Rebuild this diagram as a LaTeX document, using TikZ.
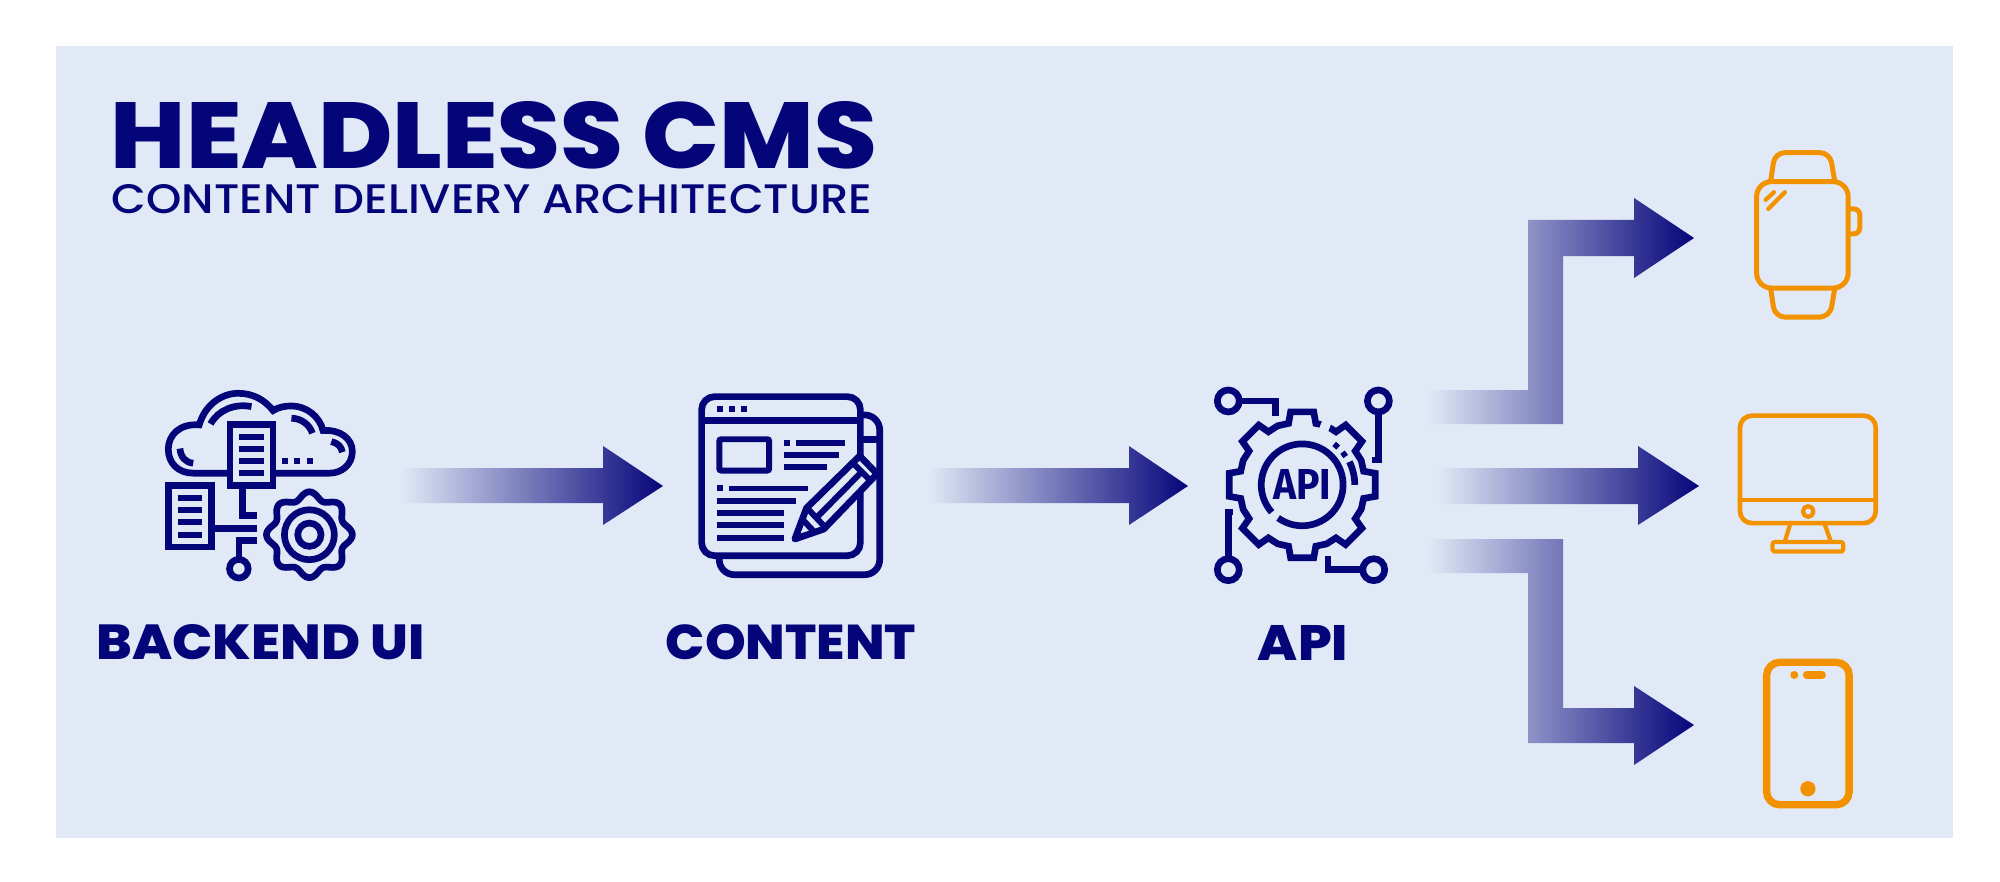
\documentclass[tikz,border=0pt]{standalone}
\usepackage{fontspec}
\usepackage{graphicx}
\setmainfont{Poppins}
\newfontfamily\heavyfont{Poppins ExtraBold}
\newfontfamily\medfont{Poppins Medium}
\newfontfamily\iconfont{Fira Sans}[UprightFont=* Bold]
\definecolor{panelc}{HTML}{E1E9F6}
\definecolor{navyc}{HTML}{05057A}
\definecolor{orangec}{HTML}{F39200}
\tikzset{
  txt/.style={inner sep=0pt,outer sep=0pt,text=navyc,anchor=center},
  grad/.style={left color=panelc,right color=navyc,draw=none},
  ic/.style={draw=navyc,line width=1.9pt,line cap=butt,line join=miter},
  icthin/.style={draw=navyc,line width=1.7pt,line cap=butt},
  org/.style={draw=orangec,line cap=round,line join=round},
  zoomed/.style={x=0.003333cm,y=-0.003333cm}
}
\newcommand{\navybar}[3]{\draw[icthin,line width=1.7pt] (#1,#3)--(#2,#3);}
\begin{document}
\begin{tikzpicture}[x=0.01cm,y=-0.01cm]
\useasboundingbox (0,0) rectangle (2000,882);
\fill[white] (0,0) rectangle (2000,882);
\fill[panelc] (56,46) rectangle (1953,838);

% titles
\node[txt] (title) at (494,135.5) {\resizebox{7.66cm}{0.67cm}{\heavyfont HEADLESS CMS}};
\node[txt] (subtitle) at (492,199.5) {\resizebox{7.6cm}{0.29cm}{\medfont CONTENT DELIVERY ARCHITECTURE}};
\node[txt] (l1) at (260.5,642.5) {\resizebox{3.28cm}{0.35cm}{\heavyfont BACKEND UI}};
\node[txt] (l2) at (791,642.5) {\resizebox{2.5cm}{0.35cm}{\heavyfont CONTENT}};
\node[txt] (l3) at (1303,642.5) {\resizebox{0.9cm}{0.35cm}{\heavyfont API}};

% gradient arrows
\shade[grad] (401,468)--(603,468)--(603,446)--(663,486)--(603,525)--(603,503)--(401,503)--cycle;
\shade[grad] (928,468)--(1129,468)--(1129,446)--(1188,486)--(1129,525)--(1129,503)--(928,503)--cycle;
\shade[grad] (1428,390)--(1528,390)--(1528,220)--(1634,220)--(1634,198)--(1694,238)--(1634,278)--(1634,256)--(1563,256)--(1563,424)--(1428,424)--cycle;
\shade[grad] (1438,468)--(1638,468)--(1638,446)--(1699,486)--(1638,525)--(1638,504)--(1438,504)--cycle;
\shade[grad] (1428,539)--(1563,539)--(1563,708)--(1634,708)--(1634,686)--(1694,725)--(1634,765)--(1634,743)--(1528,743)--(1528,573)--(1428,573)--cycle;

% backend icon
\begin{scope}[shift={(140,370)},zoomed]
\draw[ic] (262,310) -- (160,310) .. controls (115,310) and (85,280) .. (85,238)
  .. controls (85,195) and (120,160) .. (178,165)
  .. controls (195,105) and (245,70) .. (295,70)
  .. controls (340,70) and (375,90) .. (400,122)
  .. controls (415,112) and (435,108) .. (455,108)
  .. controls (500,108) and (540,140) .. (550,182)
  .. controls (600,178) and (638,205) .. (638,245)
  .. controls (638,285) and (605,310) .. (570,310) -- (408,310);
\draw[ic] (212,162) .. controls (235,120) and (285,100) .. (335,110);
\draw[ic] (455,145) .. controls (485,145) and (510,165) .. (518,190);
\draw[ic] (575,215) .. controls (595,220) and (605,230) .. (608,247);
\draw[ic] (120,236) .. controls (122,262) and (137,278) .. (160,280);
\draw[ic,fill=panelc] (270,163) rectangle (400,348);
\draw[ic,fill=panelc] (85,347) rectangle (215,532);
\foreach \yy in {200,237,273,310} {\navybar{298}{372}{\yy}}
\foreach \yy in {384,421,458,495} {\navybar{113}{187}{\yy}}
\foreach \xx in {426,463,501} {\fill[navyc] (\xx,264) rectangle ++(18,18);}
\draw[ic] (308,348)--(308,438)--(353,438);
\draw[ic] (215,476)--(353,476);
\draw[ic] (353,512)--(297,512)--(297,565);
\draw[ic] (297,597) circle (28);
\draw[ic,line join=round] plot[domain=0:360,samples=145,smooth cycle] ({509+(118+11*cos(8*\x))*cos(\x)},{495+(118+11*cos(8*\x))*sin(\x)});
\draw[ic] (509,495) circle (75);
\draw[ic] (509,495) circle (35);
\end{scope}

% content icon
\begin{scope}[shift={(680,380)},zoomed]
\draw[ic,rounded corners=0.15cm] (540,105)--(600,105)--(600,585)--(118,585)--(118,528);
\draw[ic] (545,178)--(600,178);
\draw[ic,rounded corners=0.13cm,fill=panelc] (65,50) rectangle (542,528);
\draw[ic] (65,122)--(542,122);
\foreach \xx in {110,146,183} {\fill[navyc] (\xx,78) rectangle ++(18,18);}
\draw[icthin,rounded corners=0.02cm] (118,178) rectangle (268,272);
\fill[navyc] (312,179) rectangle ++(18,18);
\navybar{349}{497}{188}
\navybar{312}{478}{225}
\navybar{312}{441}{262}
\fill[navyc] (110,317) rectangle ++(18,18);
\navybar{146}{386}{326}
\navybar{110}{350}{363}
\navybar{110}{313}{400}
\navybar{110}{313}{437}
\navybar{110}{313}{474}
% pencil
\draw[ic,fill=panelc,line join=round] (345,478)--(380,385)--(540,228)--(592,282)--(432,448)--cycle;
\draw[icthin] (520,250)--(572,302);
\draw[icthin] (385,388)--(434,440);
\draw[icthin] (367,418)--(405,458);
\draw[icthin] (410,414)--(546,276);
\end{scope}

% API icon
\begin{scope}[shift={(1200,380)},zoomed]
\draw[ic] (85,63) circle (33);
\draw[ic] (118,63)--(226,63)--(226,108);
\draw[ic] (536,63) circle (33);
\draw[ic] (536,96)--(536,240)--(517,240);
\draw[ic] (85,570) circle (33);
\draw[ic] (85,537)--(85,397)--(100,397);
\draw[ic] (522,570) circle (33);
\draw[ic] (489,570)--(385,570)--(385,528);
\begin{scope}[shift={(307,315)}]
\draw[ic] (-12.5:189)--(-9:222)--(9:222)--(12.5:189)
  \foreach \aa in {45,90,135,180,225,270,315} { -- (\aa-22.5:192) -- (\aa-12.5:189) -- (\aa-9:222) -- (\aa+9:222) -- (\aa+12.5:189) }
  -- (337.5:192) -- cycle;
\draw[panelc,line width=2.7pt] (-68.6:172)--(-68.6:206);
\draw[ic] (138:123) arc [start angle=138,end angle=486,radius=123];
\draw[ic] (-26:158) arc [start angle=-26,end angle=0,radius=158];
\draw[navyc,line width=1.6pt] (-52:156)--(-46:156);
\draw[navyc,line width=1.6pt] (-39:156)--(-33:156);
\node[txt] (apiglyph) at (0,0) {\resizebox{0.58cm}{0.30cm}{\iconfont API}};
\end{scope}
\end{scope}

% watch
\begin{scope}[shift={(1720,140)},zoomed]
\draw[org,line width=1.42pt,rounded corners=0.15cm] (110,125) rectangle (385,445);
\draw[org,line width=1.42pt,rounded corners=0.06cm] (385,207)--(420,207)--(420,282)--(385,282);
\draw[org,line width=1.42pt,rounded corners=0.1cm] (152,125)--(165,38)--(330,38)--(345,125);
\draw[org,line width=1.42pt,rounded corners=0.1cm] (152,445)--(165,532)--(330,532)--(345,445);
\draw[org,line width=1.2pt] (137,180)--(162,157);
\draw[org,line width=1.2pt] (145,207)--(195,157);
\end{scope}

% monitor
\begin{scope}[shift={(1720,400)},zoomed]
\draw[org,line width=1.33pt,rounded corners=0.12cm] (60,47) rectangle (468,370);
\draw[org,line width=1.33pt] (60,300)--(468,300);
\draw[org,line width=1.2pt] (265,335) circle (16);
\draw[org,line width=1.2pt] (210,375)--(195,425);
\draw[org,line width=1.2pt] (315,375)--(333,425);
\draw[org,line width=1.2pt,rounded corners=0.02cm] (158,427) rectangle (370,455);
\end{scope}

% phone
\begin{scope}[shift={(1740,640)},zoomed]
\draw[org,line width=2.1pt,rounded corners=0.13cm] (80,67) rectangle (328,495);
\fill[orangec] (163,105) circle (12);
\draw[org,line width=2.1pt] (200,105)--(247,105);
\fill[orangec] (204,447) circle (23);
\end{scope}
\end{tikzpicture}
\end{document}
